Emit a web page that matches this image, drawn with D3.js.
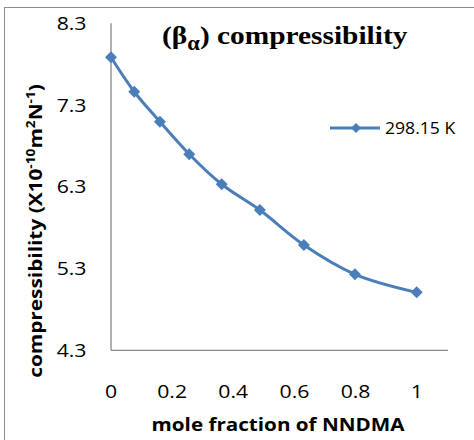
<!DOCTYPE html>
<html><head><meta charset="utf-8">
<script src="https://cdn.jsdelivr.net/npm/d3@7/dist/d3.min.js"></script>
<style>body{margin:0;background:#fff}svg{display:block}</style>
</head><body>
<script>
const xValues = [0, 0.076, 0.160, 0.256, 0.362, 0.487, 0.631, 0.798, 1.0];
const yValues = [7.884, 7.463, 7.096, 6.698, 6.331, 6.016, 5.588, 5.230, 5.009];
const xTicks = [0, 0.2, 0.4, 0.6, 0.8, 1];
const yTicks = [4.3, 5.3, 6.3, 7.3, 8.3];
const seriesName = "298.15 K";

const W = 474, H = 440;
const svg = d3.select("body").append("svg").attr("width", W).attr("height", H);

// outer frame
svg.append("rect").attr("x", 4.5).attr("y", 7.5).attr("width", 480).attr("height", 450)
  .attr("fill", "#fff").attr("stroke", "#8c8c8c").attr("stroke-width", 1);

const x = d3.scaleLinear().domain([0, 1]).range([111, 416.7]);
const y = d3.scaleLinear().domain([4.3, 8.3]).range([350.3, 23.3]);
const xEnd = 448;
const axisColor = "#868686";
const SX = 1.18;

// y axis
svg.append("line").attr("x1", 111).attr("x2", 111).attr("y1", y(8.3)).attr("y2", y(4.3))
  .attr("stroke", axisColor).attr("stroke-width", 1.3);
svg.selectAll(".ytick").data(yTicks).join("text").attr("class", "ytick")
  .attr("transform", d => `translate(86.5,${y(d)}) scale(${SX},1)`)
  .attr("dy", "0.36em").attr("text-anchor", "end")
  .attr("font-family", "Open Sans").attr("font-size", 18)
  .text(d => d3.format(".1f")(d));

// x axis
svg.append("line").attr("x1", 111).attr("x2", xEnd).attr("y1", y(4.3)).attr("y2", y(4.3))
  .attr("stroke", axisColor).attr("stroke-width", 1.3);
svg.selectAll(".xtick").data(xTicks).join("text").attr("class", "xtick")
  .attr("transform", d => `translate(${x(d)},397.5) scale(${SX},1)`)
  .attr("text-anchor", "middle")
  .attr("font-family", "Open Sans").attr("font-size", 18)
  .text(d => d3.format("")(d));

// line
const color = "#4a7ebb";
const pts = xValues.map((v, i) => [x(v), y(yValues[i])]);
svg.append("path").datum(pts)
  .attr("d", d3.line().curve(d3.curveCatmullRom.alpha(0.5)))
  .attr("fill", "none").attr("stroke", color).attr("stroke-width", 3);
svg.selectAll(".pt").data(pts).join("path").attr("class", "pt")
  .attr("d", d3.symbol().type(d3.symbolSquare).size(72)())
  .attr("transform", d => `translate(${d[0]},${d[1]}) rotate(45)`)
  .attr("fill", color);

// legend
svg.append("line").attr("x1", 330).attr("x2", 380).attr("y1", 128).attr("y2", 128)
  .attr("stroke", color).attr("stroke-width", 3);
svg.append("path").attr("d", d3.symbol().type(d3.symbolSquare).size(50)())
  .attr("transform", "translate(356,128) rotate(45)").attr("fill", color);
svg.append("text").attr("transform", "translate(385,133.5) scale(1.1,1)")
  .attr("font-family", "Open Sans").attr("font-size", 16).text(seriesName);

// title
const title = svg.append("text").attr("transform", "translate(162,44) scale(1.13,1)")
  .attr("font-family", "Liberation Serif").attr("font-weight", "bold").attr("font-size", 26);
title.append("tspan").text("(β");
title.append("tspan").attr("dy", 6).attr("font-size", 20).text("α");
title.append("tspan").attr("dy", -6).text(") compressibility");

// y axis label
const yl = svg.append("text").attr("transform", "translate(42,231) rotate(-90) scale(1.19,1)")
  .attr("text-anchor", "middle").attr("font-family", "Open Sans").attr("font-weight", "bold")
  .attr("font-size", 17.5);
yl.append("tspan").text("compressibility (X10");
yl.append("tspan").attr("dy", -7).attr("font-size", 11.5).text("-10");
yl.append("tspan").attr("dy", 7).text("m");
yl.append("tspan").attr("dy", -7).attr("font-size", 11.5).text("2");
yl.append("tspan").attr("dy", 7).text("N");
yl.append("tspan").attr("dy", -7).attr("font-size", 11.5).text("-1");
yl.append("tspan").attr("dy", 7).text(")");

// x axis label
svg.append("text").attr("transform", "translate(278,431) scale(1.18,1)").attr("text-anchor", "middle")
  .attr("font-family", "Open Sans").attr("font-weight", "bold").attr("font-size", 17.5)
  .text("mole fraction of NNDMA");
</script>
</body></html>
